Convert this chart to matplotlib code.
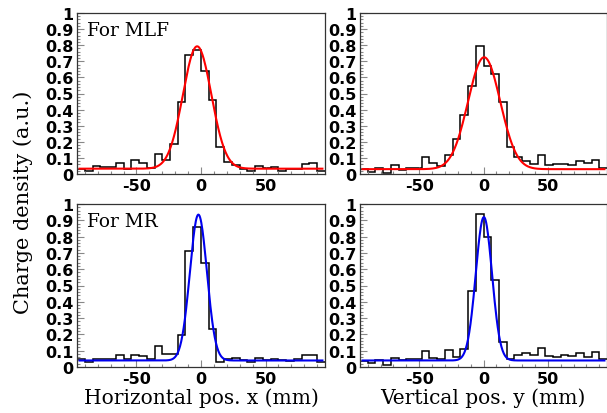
import numpy as np
import matplotlib.pyplot as plt
from matplotlib.ticker import MultipleLocator

# bin edges: 32 bins of 6 mm from -96 to 96
edges = np.arange(-96, 97, 6)

mlf_x = [0.033, 0.017, 0.047, 0.043, 0.043, 0.070, 0.033, 0.090, 0.070, 0.037, 0.126, 0.085, 0.184, 0.446, 0.742, 0.773,
         0.640, 0.460, 0.170, 0.075, 0.054, 0.033, 0.017, 0.050, 0.037, 0.043, 0.020, 0.030, 0.033, 0.064, 0.068, 0.019]
mlf_y = [0.033, 0.012, 0.040, 0.004, 0.058, 0.025, 0.037, 0.040, 0.103, 0.068, 0.050, 0.116, 0.215, 0.364, 0.545, 0.797,
         0.670, 0.620, 0.446, 0.167, 0.107, 0.083, 0.060, 0.120, 0.056, 0.060, 0.060, 0.058, 0.083, 0.066, 0.085, 0.040]
mr_x = [0.047, 0.030, 0.047, 0.047, 0.047, 0.072, 0.047, 0.076, 0.066, 0.047, 0.127, 0.078, 0.078, 0.195, 0.713, 0.860,
        0.635, 0.236, 0.030, 0.047, 0.055, 0.040, 0.030, 0.057, 0.040, 0.051, 0.040, 0.037, 0.047, 0.072, 0.072, 0.030]
mr_y = [0.035, 0.025, 0.040, 0.010, 0.057, 0.040, 0.047, 0.047, 0.096, 0.057, 0.047, 0.102, 0.061, 0.113, 0.467, 0.936,
        0.795, 0.533, 0.154, 0.047, 0.076, 0.088, 0.072, 0.117, 0.068, 0.061, 0.072, 0.068, 0.088, 0.061, 0.092, 0.047]

# gaussian + constant fit parameters: (amplitude, mean, sigma, baseline)
fit_mlf_x = (0.76, -3.0, 11.0, 0.033)
fit_mlf_y = (0.695, 0.5, 12.5, 0.030)
fit_mr_x = (0.895, -2.0, 6.6, 0.040)
fit_mr_y = (0.88, 0.3, 6.3, 0.040)

xtick_vals = [-50, 0, 50]
xtick_labels = ['-50', '0', '50']
ytick_labels = ['0', '0.1', '0.2', '0.3', '0.4', '0.5', '0.6', '0.7', '0.8', '0.9', '1']

panels = [
    (mlf_x, fit_mlf_x, 'red', 'For MLF', [77, 14, 248, 161]),
    (mlf_y, fit_mlf_y, 'red', None, [360, 14, 247, 161]),
    (mr_x, fit_mr_x, '#0000ee', 'For MR', [77, 205, 248, 163]),
    (mr_y, fit_mr_y, '#0000ee', None, [360, 205, 247, 163]),
]

W, H = 607, 414
fig = plt.figure(figsize=(W / 100, H / 100), dpi=100)

xf = np.linspace(-94, 94, 400)
for vals, p, col, label, (l, t, w, h) in panels:
    ax = fig.add_axes([l / W, (H - t - h) / H, w / W, h / H])
    ax.stairs(vals, edges, baseline=None, color='black', lw=1.1)
    a, m, s, c = p
    ax.plot(xf, a * np.exp(-0.5 * ((xf - m) / s) ** 2) + c, color=col, lw=1.5)
    ax.set_xlim(-96, 96)
    ax.set_ylim(0, 1)
    ax.set_xticks(xtick_vals)
    ax.set_xticklabels(xtick_labels)
    ax.set_yticks(np.arange(0, 1.01, 0.1))
    ax.set_yticklabels(ytick_labels)
    ax.xaxis.set_minor_locator(MultipleLocator(10))
    ax.yaxis.set_minor_locator(MultipleLocator(0.02))
    ax.tick_params(which='both', direction='in', color='#888888', labelsize=11.5, width=0.8)
    ax.tick_params(which='major', length=5)
    ax.tick_params(which='minor', length=2.5)
    ax.tick_params(axis='y', pad=2.5)
    ax.tick_params(axis='x', pad=3)
    for lab in ax.get_xticklabels() + ax.get_yticklabels():
        lab.set_fontweight('bold')
        lab.set_family('DejaVu Sans')
    for sp in ax.spines.values():
        sp.set_color('#333333')
        sp.set_linewidth(0.9)
    if label:
        ax.text(0.04, 0.95, label, transform=ax.transAxes, ha='left', va='top',
                family='DejaVu Serif', fontsize=13.3)

fig.text(201 / W, 1 - 404 / H, 'Horizontal pos. x (mm)', ha='center', va='baseline',
         family='DejaVu Serif', fontsize=14.5)
fig.text(483 / W, 1 - 404 / H, 'Vertical pos. y (mm)', ha='center', va='baseline',
         family='DejaVu Serif', fontsize=14.5)
fig.text(23 / W, 1 - 202 / H, 'Charge density (a.u.)', ha='center', va='center',
         rotation=90, family='DejaVu Serif', fontsize=15)

fig.savefig('out.png', dpi=100)
